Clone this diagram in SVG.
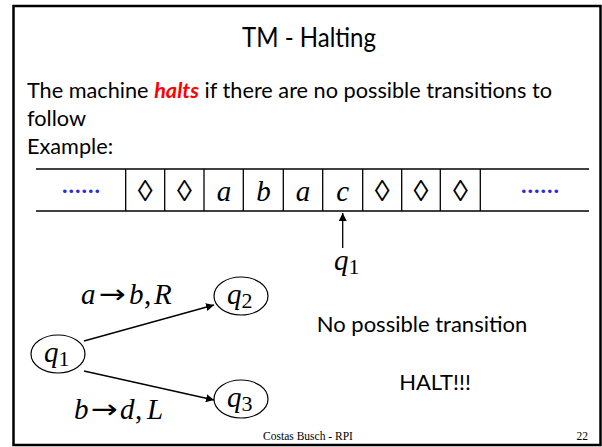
<svg xmlns="http://www.w3.org/2000/svg" width="602" height="447" viewBox="0 0 602 447">
<defs>
<style>
.sans{font-family:Lato,"Liberation Sans",sans-serif;fill:#000}
.serif{font-family:"Liberation Serif","Times New Roman",serif;fill:#000}
.it{font-style:italic}
.arr{font-family:"DejaVu Sans",sans-serif;font-size:26px;fill:#000}
.ln{stroke:#000;stroke-width:1.3;fill:none}
.st{fill:#fff;stroke:#000;stroke-width:1.2}
.dots{font-family:"Liberation Serif",serif;font-weight:bold;fill:#2b2bd9;font-size:22px}
</style>
<marker id="ah" viewBox="0 0 10 10" refX="10" refY="5" markerWidth="8" markerHeight="8" orient="auto" markerUnits="userSpaceOnUse">
<path d="M0,0 L10,5 L0,10 z" fill="#000"/>
</marker>
</defs>
<rect x="0" y="0" width="602" height="447" fill="#fff"/>
<rect x="13.5" y="6" width="587" height="439" fill="none" stroke="#000" stroke-width="2.5"/>

<g id="title"><text class="sans" x="309" y="47" font-size="26" text-anchor="middle" textLength="134" lengthAdjust="spacingAndGlyphs">TM - Halting</text></g>
<g id="body">
<text class="sans" x="27" y="98" font-size="21.7">The machine <tspan fill="#ff0000" font-weight="bold" font-style="italic">halts</tspan> if there are no possible transitions to</text>
<text class="sans" x="27" y="126" font-size="21.7">follow</text>
<text class="sans" x="27" y="154" font-size="21.7">Example:</text>
</g>

<g id="tape">
<line class="ln" x1="36" y1="169" x2="589" y2="169"/>
<line class="ln" x1="36" y1="211" x2="589" y2="211"/>
<g class="ln">
<line x1="125.7" y1="169" x2="125.7" y2="211"/>
<line x1="164.7" y1="169" x2="164.7" y2="211"/>
<line x1="204" y1="169" x2="204" y2="211"/>
<line x1="243.3" y1="169" x2="243.3" y2="211"/>
<line x1="283.3" y1="169" x2="283.3" y2="211"/>
<line x1="322.7" y1="169" x2="322.7" y2="211"/>
<line x1="362.7" y1="169" x2="362.7" y2="211"/>
<line x1="401.7" y1="169" x2="401.7" y2="211"/>
<line x1="440.3" y1="169" x2="440.3" y2="211"/>
<line x1="480.3" y1="169" x2="480.3" y2="211"/>
</g>
<text class="dots" x="62" y="193" textLength="38" lengthAdjust="spacing">......</text>
<text class="dots" x="521" y="193" textLength="38" lengthAdjust="spacing">......</text>
<g class="serif" font-size="30" text-anchor="middle">
<text x="145.2" y="201">◊</text>
<text x="184.4" y="201">◊</text>
<text x="382.2" y="201">◊</text>
<text x="421" y="201">◊</text>
<text x="460.3" y="201">◊</text>
</g>
<g class="serif it" font-size="29" text-anchor="middle">
<text x="224" y="201">a</text>
<text x="263.5" y="201">b</text>
<text x="303" y="201">a</text>
<text x="342.7" y="201">c</text>
</g>
</g>

<g id="head">
<line class="ln" x1="342.7" y1="248" x2="342.7" y2="213" marker-end="url(#ah)"/>
<text class="serif" x="334" y="270" font-size="29"><tspan font-style="italic">q</tspan><tspan font-size="22" dy="4">1</tspan></text>
</g>

<g id="connectors">
<line class="ln" x1="84" y1="341" x2="214" y2="305" marker-end="url(#ah)"/>
<line class="ln" x1="84" y1="371" x2="214" y2="400" marker-end="url(#ah)"/>
<text class="serif it" y="304" font-size="29"><tspan x="81">a</tspan><tspan x="129">b</tspan><tspan x="144" font-style="normal">,</tspan><tspan x="154">R</tspan></text>
<text class="arr" x="99" y="303" textLength="27" lengthAdjust="spacingAndGlyphs">→</text>
<text class="serif it" y="419" font-size="29"><tspan x="74">b</tspan><tspan x="120">d</tspan><tspan x="135" font-style="normal">,</tspan><tspan x="147">L</tspan></text>
<text class="arr" x="91" y="418" textLength="27" lengthAdjust="spacingAndGlyphs">→</text>
</g>

<g id="q1">
<ellipse class="st" cx="58" cy="354" rx="27" ry="19"/>
<text class="serif" x="44" y="362" font-size="29"><tspan font-style="italic">q</tspan><tspan font-size="22" dy="4">1</tspan></text>
</g>
<g id="q2">
<ellipse class="st" cx="241" cy="296" rx="27" ry="19"/>
<text class="serif" x="227" y="304" font-size="29"><tspan font-style="italic">q</tspan><tspan font-size="22" dy="4">2</tspan></text>
</g>
<g id="q3">
<ellipse class="st" cx="241" cy="399" rx="27" ry="19"/>
<text class="serif" x="227" y="407" font-size="29"><tspan font-style="italic">q</tspan><tspan font-size="22" dy="4">3</tspan></text>
</g>

<g id="notes">
<text class="sans" x="422" y="332" font-size="22" text-anchor="middle">No possible transition</text>
<text class="sans" x="435" y="390" font-size="22" text-anchor="middle">HALT!!!</text>
</g>

<g id="footer">
<text class="serif" x="308" y="440" font-size="11.5" text-anchor="middle">Costas Busch - RPI</text>
<text class="serif" x="588" y="440" font-size="11.5" text-anchor="end">22</text>
</g>
</svg>
